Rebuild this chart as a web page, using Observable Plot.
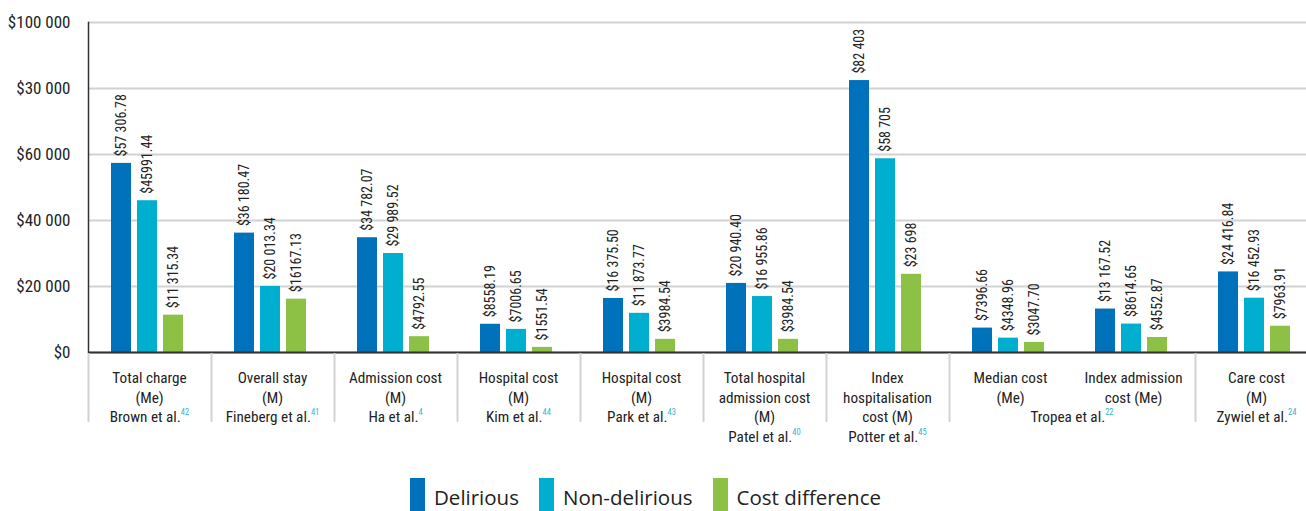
<!DOCTYPE html>
<html>
<head>
<meta charset="utf-8">
<script src="https://cdn.jsdelivr.net/npm/d3@7"></script>
<script src="https://cdn.jsdelivr.net/npm/@observablehq/plot@0.6"></script>
<style>
  html, body { margin: 0; padding: 0; background: #fff; overflow: hidden; }
  body { width: 1306px; height: 511px; }
  #legend { height: 41px; display: flex; align-items: flex-start; padding-left: 410px; padding-top: 8px; box-sizing: border-box;
            font-family: "Open Sans", "Noto Sans", sans-serif; font-size: 20.5px; color: #222; overflow: hidden; }
  .item { display: flex; align-items: flex-start; margin-right: 20px; }
  .sw { width: 15px; height: 36px; margin-right: 9px; }
  .lab { margin-top: 5px; line-height: 28px; white-space: nowrap; }
</style>
</head>
<body>
<div id="chart"></div>
<div id="legend"></div>
<script>
// ---------- data ----------
const keys = ["brown", "fineberg", "ha", "kim", "park", "patel", "potter", "tropea-median", "tropea-index", "zywiel"];
const categoryLabels = [
  "Total charge\n(Me)", "Overall stay\n(M)", "Admission cost\n(M)", "Hospital cost\n(M)", "Hospital cost\n(M)",
  "Total hospital\nadmission cost\n(M)", "Index\nhospitalisation\ncost (M)", "Median cost\n(Me)", "Index admission\ncost (Me)", "Care cost\n(M)"
];
const studies = ["Brown et al.", "Fineberg et al.", "Ha et al.", "Kim et al.", "Park et al.", "Patel et al.", "Potter et al.", "Tropea et al.", "Tropea et al.", "Zywiel et al."];
const refs = ["42", "41", "4", "44", "43", "40", "45", "22", "22", "24"];

const seriesNames = ["Delirious", "Non-delirious", "Cost difference"];
const seriesColors = ["#0071bb", "#00aecf", "#8cc145"];

const delirious      = [57306.78, 36180.47, 34782.07, 8558.19, 16375.50, 20940.40, 82403, 7396.66, 13167.52, 24416.84];
const nonDelirious   = [45991.44, 20013.34, 29989.52, 7006.65, 11873.77, 16955.86, 58705, 4348.96, 8614.65, 16452.93];
const costDifference = [11315.34, 16167.13, 4792.55, 1551.54, 3984.54, 3984.54, 23698, 3047.70, 4552.87, 7963.91];

const deliriousLabels      = ["$57 306.78", "$36 180.47", "$34 782.07", "$8558.19", "$16 375.50", "$20 940.40", "$82 403", "$7396.66", "$13 167.52", "$24 416.84"];
const nonDeliriousLabels   = ["$45991.44", "$20 013.34", "$29 989.52", "$7006.65", "$11 873.77", "$16 955.86", "$58 705", "$4348.96", "$8614.65", "$16 452.93"];
const costDifferenceLabels = ["$11 315.34", "$16167.13", "$4792.55", "$1551.54", "$3984.54", "$3984.54", "$23 698", "$3047.70", "$4552.87", "$7963.91"];

const yTicks = [0, 20000, 40000, 60000, 80000, 100000];
const yTickLabels = ["$0", "$20 000", "$40 000", "$60 000", "$30 000", "$100 000"];

// ---------- table ----------
const seriesValues = [delirious, nonDelirious, costDifference];
const seriesLabels = [deliriousLabels, nonDeliriousLabels, costDifferenceLabels];
const rows = keys.flatMap((k, i) => seriesNames.map((s, j) => ({
  key: k, series: s, value: seriesValues[j][i], label: seriesLabels[j][i]
})));

const narrow = "'Liberation Sans Narrow', 'Roboto Condensed', 'DejaVu Sans Condensed', sans-serif";

const plot = Plot.plot({
  width: 1306,
  height: 470,
  marginLeft: 88,
  marginRight: -12,
  marginTop: 22,
  marginBottom: 118,
  style: { fontFamily: narrow, background: "#fff", color: "#222" },
  fx: { domain: keys, padding: 0, axis: null, label: null },
  x: { domain: seriesNames, paddingInner: 0.22, paddingOuter: 0.89, align: 0.46, axis: null, label: null },
  y: { domain: [0, 100000], label: null },
  color: { domain: seriesNames, range: seriesColors },
  marks: [
    Plot.gridY(yTicks, { stroke: "#d2d2d2", strokeOpacity: 1, strokeWidth: 2 }),
    Plot.axisY(yTicks, { tickSize: 0, tickPadding: 18, fontSize: 17, label: null,
      tickFormat: d => yTickLabels[yTicks.indexOf(d)] }),
    Plot.barY(rows, { fx: "key", x: "series", y: "value", fill: "series" }),
    Plot.text(rows, { fx: "key", x: "series", y: "value", text: "label", rotate: -90,
      textAnchor: "start", dy: -7, fontSize: 14, fill: "#222" }),
    Plot.ruleY([0], { stroke: "#333", strokeWidth: 2 }),
    Plot.frame({ anchor: "left", facetAnchor: "left", stroke: "#333", strokeWidth: 1.5 })
  ]
});

document.getElementById("chart").appendChild(plot);

// ---------- category annotations (through Plot's scales) ----------
const fx = plot.scale("fx");
const ys = plot.scale("y");
const y0 = ys.apply(0);
const bw = fx.bandwidth;
const lineH = 19.5;
const firstBase = 31;
const svg = d3.select(plot);
const ann = svg.append("g")
  .attr("font-family", narrow).attr("font-size", 15.2).attr("fill", "#222").attr("text-anchor", "middle");

// separators at the start of each study group
keys.forEach((k, i) => {
  if (i === 0 || studies[i] !== studies[i - 1]) {
    const x = fx.apply(k) + 0.5;
    ann.append("line").attr("x1", x).attr("x2", x).attr("y1", y0 + 1).attr("y2", y0 + 70)
      .attr("stroke", "#d2d2d2").attr("stroke-width", 2);
  }
});

// category labels
keys.forEach((k, i) => {
  const cx = fx.apply(k) + bw / 2;
  const t = ann.append("text").attr("x", cx).attr("y", y0 + firstBase);
  categoryLabels[i].split("\n").forEach((line, li) => {
    t.append("tspan").attr("x", cx).attr("y", y0 + firstBase + li * lineH).text(line);
  });
});

// study labels with superscript references
const groups = [];
keys.forEach((k, i) => {
  const last = groups[groups.length - 1];
  if (last && last.study === studies[i]) last.idx.push(i);
  else groups.push({ study: studies[i], ref: refs[i], idx: [i] });
});
groups.forEach(g => {
  const a = fx.apply(keys[g.idx[0]]);
  const b = fx.apply(keys[g.idx[g.idx.length - 1]]) + bw;
  const nLines = d3.max(g.idx, i => categoryLabels[i].split("\n").length);
  const t = ann.append("text").attr("x", (a + b) / 2).attr("y", y0 + firstBase + nLines * lineH);
  t.append("tspan").text(g.study);
  t.append("tspan").attr("font-size", 8.5).attr("dy", -7).attr("fill", "#2fb4d6").text(g.ref);
});

// ---------- legend ----------
const legend = document.getElementById("legend");
seriesNames.forEach((s, i) => {
  const item = document.createElement("div");
  item.className = "item";
  const sw = document.createElement("div");
  sw.className = "sw";
  sw.style.background = seriesColors[i];
  const lab = document.createElement("div");
  lab.className = "lab";
  lab.textContent = s;
  item.appendChild(sw);
  item.appendChild(lab);
  legend.appendChild(item);
});
</script>
</body>
</html>
